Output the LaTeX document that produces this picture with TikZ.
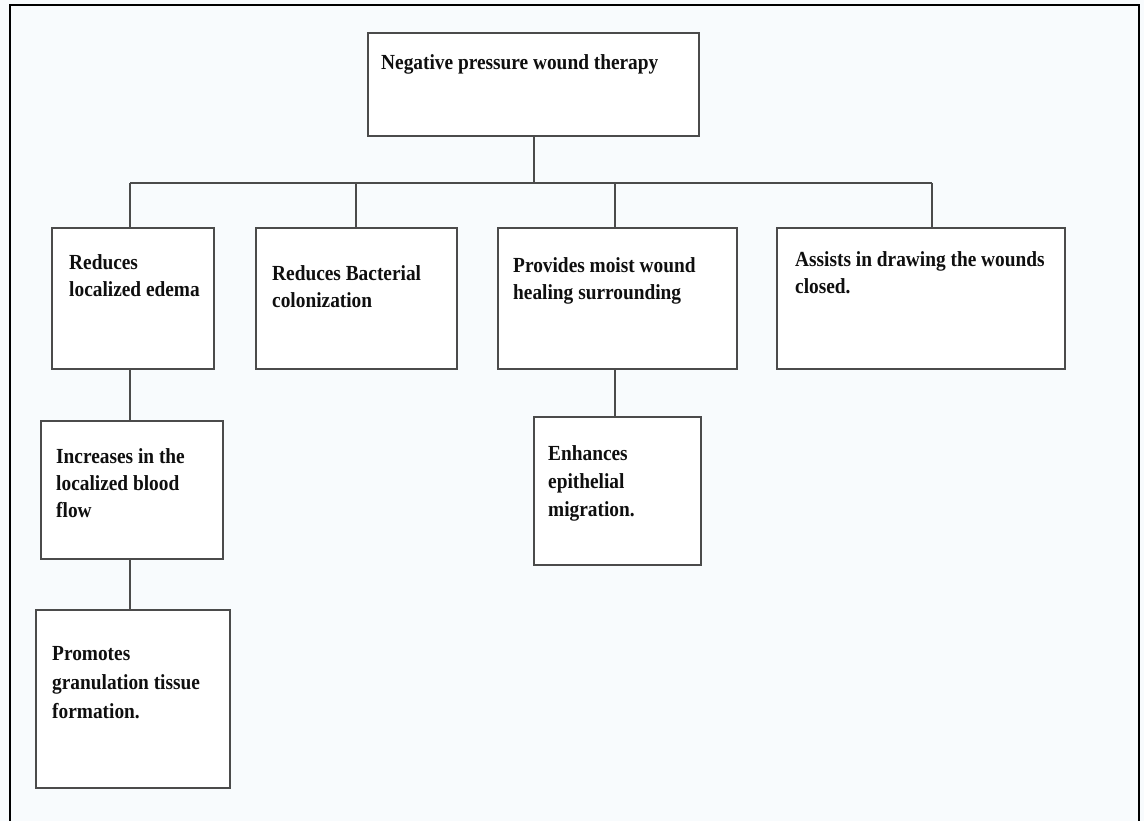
\documentclass[tikz,border=0pt]{standalone}
\usepackage{fontspec}
\setmainfont{Liberation Serif}[FakeStretch=0.9]
\definecolor{bg}{RGB}{248,251,253}
\definecolor{boxgray}{RGB}{75,75,75}
\definecolor{txt}{RGB}{15,15,15}
\begin{document}
\begin{tikzpicture}[x=1pt,y=-1pt,
  box/.style={draw=boxgray, line width=2pt, fill=white, anchor=north west, inner sep=0pt},
  lbl/.style={anchor=base west, inner sep=0pt, font=\bfseries\fontsize{21.5}{27}\selectfont, text=txt, align=left},
  conn/.style={draw=boxgray, line width=2pt}]
\useasboundingbox (0,0) rectangle (1144,821);
\fill[bg] (0,0) rectangle (1144,821);
\draw[line width=2.2pt, black] (10,830) -- (10,5) -- (1139,5) -- (1139,830);

% boxes
\node[box, minimum width=331, minimum height=103] (top) at (367,32) {};
\node[box, minimum width=162, minimum height=141] (A) at (51,227) {};
\node[box, minimum width=201, minimum height=141] (B) at (255,227) {};
\node[box, minimum width=239, minimum height=141] (C) at (497,227) {};
\node[box, minimum width=288, minimum height=141] (D) at (776,227) {};
\node[box, minimum width=182, minimum height=138] (E) at (40,420) {};
\node[box, minimum width=194, minimum height=178] (F) at (35,609) {};
\node[box, minimum width=167, minimum height=148] (G) at (533,416) {};

% texts (anchor = baseline of the last line)
\node[lbl] (topt) at (381,70) {Negative pressure wound therapy};
\node[lbl] (At) at (69,297) {Reduces\\localized edema};
\node[lbl] (Bt) at (272,308) {Reduces Bacterial\\colonization};
\node[lbl] (Ct) at (513,299) {Provides moist wound\\healing surrounding};
\node[lbl] (Dt) at (795,294) {Assists in drawing the wounds\\closed.};
\node[lbl] (Et) at (56,517) {Increases in the\\localized blood\\flow};
\node[lbl, font=\bfseries\fontsize{21.5}{29}\selectfont] (Ft) at (52,718) {Promotes\\granulation tissue\\formation.};
\node[lbl, font=\bfseries\fontsize{21.5}{28}\selectfont] (Gt) at (548,516) {Enhances\\epithelial\\migration.};

% connectors
\coordinate (ja) at (130,183);
\coordinate (jb) at (356,183);
\coordinate (jc) at (615,183);
\coordinate (jd) at (932,183);
\draw[conn] (top.south) -- (top.south |- ja);
\draw[conn] (ja) -- (jd);
\draw[conn] (ja) -- (ja |- A.north);
\draw[conn] (jb) -- (jb |- B.north);
\draw[conn] (jc) -- (jc |- C.north);
\draw[conn] (jd) -- (jd |- D.north);
\draw[conn] (A.south -| ja) -- (E.north -| ja);
\draw[conn] (E.south -| ja) -- (F.north -| ja);
\draw[conn] (C.south -| jc) -- (G.north -| jc);
\end{tikzpicture}
\end{document}
